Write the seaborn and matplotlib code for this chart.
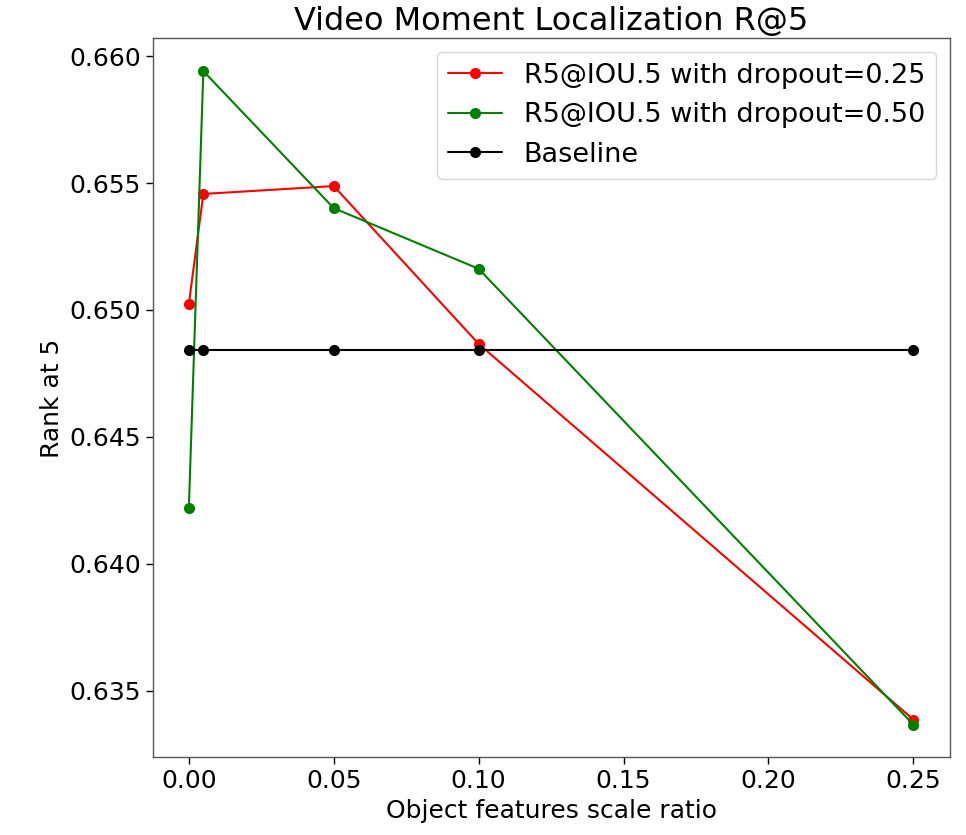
import numpy as np
import pandas as pd
import matplotlib
matplotlib.use('Agg')
import matplotlib.pyplot as plt
import seaborn as sns

# values
scale_ratio = [0.0, 0.005, 0.05, 0.1, 0.25]
r5_dropout_025 = [0.65024, 0.65457, 0.65488, 0.64866, 0.63386]
r5_dropout_050 = [0.64220, 0.65941, 0.65401, 0.65162, 0.63366]
baseline = [0.64842, 0.64842, 0.64842, 0.64842, 0.64842]

series_names = ['R5@IOU.5 with dropout=0.25', 'R5@IOU.5 with dropout=0.50', 'Baseline']
series_colors = ['red', 'green', 'black']

frames = []
for name, vals in zip(series_names, [r5_dropout_025, r5_dropout_050, baseline]):
    frames.append(pd.DataFrame({'ratio': scale_ratio, 'rank5': vals, 'series': name}))
df = pd.concat(frames, ignore_index=True)

sns.set_style('white', {'text.color': 'black', 'axes.labelcolor': 'black',
                        'xtick.color': 'black', 'ytick.color': 'black'})
plt.rcParams['font.family'] = ['DejaVu Sans']

fig, ax = plt.subplots(figsize=(9.66, 8.35), dpi=100)
sns.lineplot(data=df, x='ratio', y='rank5', hue='series', hue_order=series_names,
             palette=series_colors, marker='o', markersize=8, markeredgewidth=0,
             linewidth=1.5, ax=ax, sort=False)

ax.set_title('Video Moment Localization R@5', fontsize=23, color='black')
ax.set_xlabel('Object features scale ratio', fontsize=18)
ax.set_ylabel('Rank at 5', fontsize=18)
ax.set_xticks([0.0, 0.05, 0.10, 0.15, 0.20, 0.25])
ax.set_xticklabels(['0.00', '0.05', '0.10', '0.15', '0.20', '0.25'])
ax.set_yticks([0.635, 0.640, 0.645, 0.650, 0.655, 0.660])
ax.set_yticklabels(['0.635', '0.640', '0.645', '0.650', '0.655', '0.660'])
ax.tick_params(axis='both', labelsize=18, length=5, width=1, left=True, bottom=True,
               colors='black')
for sp in ax.spines.values():
    sp.set_color('#555555')
    sp.set_linewidth(1.0)

leg = ax.legend(loc='upper right', fontsize=19.5, frameon=True, title=None)
leg.get_frame().set_edgecolor('#cccccc')
for t in leg.get_texts():
    t.set_color('black')

fig.subplots_adjust(left=0.158, right=0.983, top=0.954, bottom=0.093)
fig.savefig('out.png', dpi=100)
